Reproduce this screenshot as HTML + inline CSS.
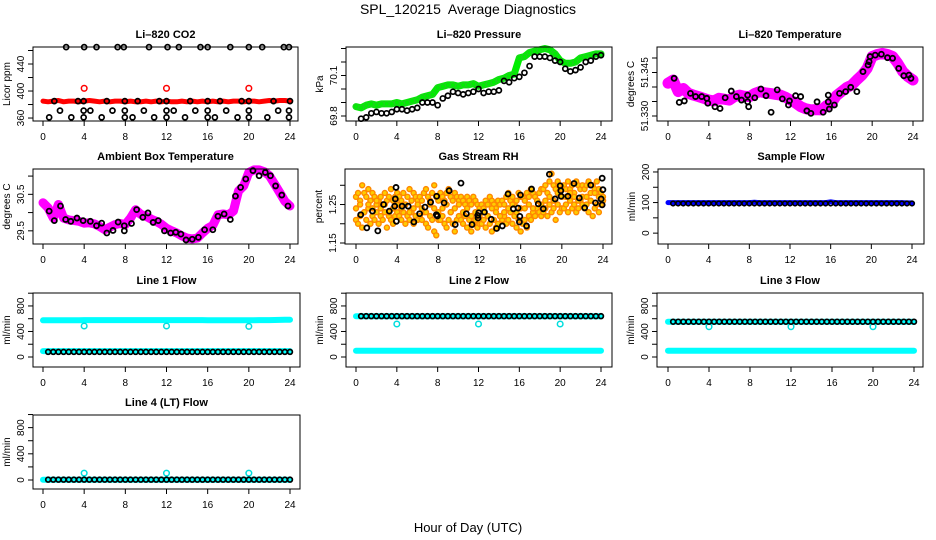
<!DOCTYPE html>
<html><head><meta charset="utf-8"><title>SPL_120215 Average Diagnostics</title>
<style>
html,body{margin:0;padding:0;background:#fff;}
svg{display:block;font-family:"Liberation Sans",sans-serif;}
</style></head>
<body>
<svg id="chart" width="936" height="540" viewBox="0 0 936 540" xmlns="http://www.w3.org/2000/svg">
<rect x="0" y="0" width="936" height="540" fill="#fff"/>
<text x="468" y="14" text-anchor="middle" font-size="14" xml:space="preserve">SPL_120215  Average Diagnostics</text>
<text x="468" y="532" text-anchor="middle" font-size="13">Hour of Day (UTC)</text>
</svg>
<script>
// ---------- data ----------
const xTicks = [0,4,8,12,16,20,24];
const halfHours = [0,0.5,1,1.5,2,2.5,3,3.5,4,4.5,5,5.5,6,6.5,7,7.5,8,8.5,9,9.5,10,10.5,11,11.5,12,12.5,13,13.5,14,14.5,15,15.5,16,16.5,17,17.5,18,18.5,19,19.5,20,20.5,21,21.5,22,22.5,23,23.5,24];
const outlierHours = [4,12,20];

// CO2
const co2Red = [385,384,385,386,384,385,385,384,385,386,385,384,385,384,385,385,384,385,384,384,385,384,385,384,385,384,384,385,384,385,384,385,384,385,384,385,384,385,385,384,385,385,384,385,386,385,386,386,385];
const co2RedOut = [404,404,404];
const co2BlkHours = [2.25,4.0,5.2,7.25,7.85,10.3,12.1,13.2,15.3,16.0,18.2,20.0,21.3,23.4,23.9, 1.1,3.4,3.95,6.2,7.95,9.2,11.3,12.0,14.3,16.0,17.2,19.3,20.0,22.4,24.0, 1.65,3.95,4.6,6.75,7.95,9.8,12.0,12.7,14.8,16.0,17.8,20.0,22.85,23.9, 0.6,2.75,3.95,5.7,7.95,8.7,10.8,12.0,13.8,16.0,16.7,18.9,20.0,21.8,23.9];
const co2Blk = [465,465,465,465,465,465,465,465,465,465,465,465,465,465,465, 385,385,385,385,385,385,385,385,385,385,385,385,385,385,385, 371,371,371,371,371,371,371,371,371,371,371,371,371,371, 361,361,361,361,361,361,361,361,361,361,361,361,361,361,361];

// Pressure
const presGreen = [69.87,69.86,69.88,69.89,69.88,69.89,69.89,69.89,69.90,69.89,69.90,69.91,69.92,69.94,69.95,69.96,70.01,70.02,70.03,70.03,70.02,70.03,70.03,70.04,70.02,70.03,70.04,70.05,70.07,70.08,70.10,70.11,70.23,70.24,70.27,70.28,70.29,70.30,70.29,70.26,70.21,70.19,70.19,70.20,70.23,70.24,70.25,70.26,70.26];
const presBlk = [69.78,69.79,69.82,69.83,69.82,69.82,69.83,69.85,69.85,69.84,69.85,69.86,69.90,69.90,69.90,69.88,69.93,69.95,69.98,69.97,69.96,69.97,69.98,70.00,69.97,69.98,69.98,69.99,70.06,70.05,70.08,70.09,70.12,70.17,70.24,70.24,70.24,70.23,70.21,70.20,70.15,70.13,70.14,70.16,70.20,70.21,70.24,70.25];

// Li-820 temperature
const tempMag = [51.3413,51.3424,51.3384,51.3395,51.3378,51.3372,51.3367,51.3361,51.3355,51.3352,51.3361,51.3358,51.3355,51.3367,51.3372,51.3368,51.3367,51.3378,51.3384,51.3380,51.3378,51.3375,51.3372,51.3365,51.3355,51.3345,51.3332,51.3325,51.3321,51.3322,51.3321,51.3335,51.3344,51.3370,51.3384,51.3398,51.3407,51.3425,51.3441,51.3464,51.3505,51.3512,51.3516,51.3512,51.3505,51.3482,51.3453,51.3436,51.3424];
const tempBlkHours = [0.6,1.1,1.6,2.2,2.7,3.3,3.8,3.9,4.6,5.1,5.6,6.2,6.7,7.2,7.8,7.8,7.9,8.5,9.1,9.6,10.1,10.7,11.2,11.8,11.9,12.5,13.0,13.6,14.0,14.6,15.2,15.7,15.7,15.8,16.3,16.8,17.4,17.9,18.5,19.1,19.6,19.7,19.8,20.3,20.9,21.5,22.0,22.6,23.1,23.6,23.8];
const tempBlk = [51.3430,51.3347,51.3352,51.3378,51.3367,51.3367,51.3361,51.3344,51.3332,51.3326,51.3363,51.3386,51.3367,51.3355,51.3372,51.3349,51.3332,51.3363,51.3393,51.3370,51.3313,51.3390,51.3359,51.3338,51.3352,51.3370,51.3367,51.3318,51.3309,51.3349,51.3313,51.3372,51.3349,51.3324,51.3338,51.3378,51.3384,51.3399,51.3384,51.3453,51.3476,51.3487,51.3505,51.3510,51.3513,51.3501,51.3499,51.3464,51.3439,51.3441,51.3430];

// Ambient box temperature
const ambMag = [30.27,30.13,29.85,30.22,29.85,29.80,29.78,29.76,29.71,29.72,29.69,29.62,29.53,29.60,29.67,29.70,29.67,29.85,30.08,29.95,29.90,29.82,29.76,29.68,29.57,29.50,29.44,29.36,29.30,29.28,29.30,29.44,29.57,29.65,29.94,29.96,29.94,30.04,30.59,30.73,31.10,31.17,31.17,31.12,31.01,30.78,30.55,30.31,30.18];
const ambBlkHours = [0.6,1.1,1.7,2.2,2.7,3.3,3.9,4.6,5.2,5.7,6.2,6.8,7.3,7.9,7.9,8.6,9.1,9.7,10.2,10.7,11.2,11.8,12.4,12.9,13.4,13.9,14.5,15.1,15.7,16.5,17.0,17.6,18.2,18.7,19.2,19.7,20.4,21.0,21.6,22.1,22.6,23.2,23.8];
const ambBlk = [30.04,29.78,30.18,29.81,29.76,29.85,29.78,29.76,29.64,29.71,29.44,29.51,29.74,29.50,29.64,29.70,30.08,29.87,29.99,29.73,29.78,29.50,29.44,29.46,29.41,29.25,29.27,29.32,29.53,29.53,29.90,29.96,29.81,30.45,30.69,30.92,31.15,31.01,31.10,31.01,30.73,30.48,30.18];

// Gas stream RH (orange scatter, three sub-samples)
const rhA = [1.27,1.28,1.26,1.30,1.28,1.27,1.29,1.26,1.28,1.27,1.25, 1.26,1.27,1.25,1.28,1.26,1.27,1.29,1.26,1.27,1.28, 1.27,1.26,1.28,1.25,1.27,1.29,1.26,1.28,1.27,1.26, 1.27,1.26,1.28,1.29,1.27,1.26,1.28,1.30,1.27,1.26, 1.28,1.27,1.26,1.28,1.29,1.27,1.26,1.28,1.27,1.26, 1.27,1.26,1.25,1.27,1.26,1.25,1.27,1.26,1.25,1.24, 1.25,1.24,1.26,1.25,1.27,1.26,1.25,1.24,1.26,1.25, 1.26,1.25,1.27,1.28,1.26,1.27,1.25,1.26,1.28,1.27, 1.27,1.26,1.28,1.27,1.29,1.28,1.27,1.26,1.28,1.29, 1.29,1.30,1.28,1.31,1.33,1.30,1.29,1.31,1.30,1.29, 1.30,1.29,1.31,1.29,1.30,1.28,1.31,1.30,1.29,1.30, 1.29,1.30,1.31,1.28,1.30,1.29,1.31,1.29,1.28,1.27];
const rhB = [1.21,1.20,1.22,1.19,1.23,1.21,1.24,1.20,1.22,1.21,1.23, 1.20,1.22,1.21,1.23,1.19,1.22,1.21,1.20,1.22,1.23, 1.22,1.21,1.23,1.20,1.22,1.21,1.23,1.20,1.22,1.21, 1.22,1.21,1.23,1.20,1.19,1.22,1.21,1.18,1.17,1.21, 1.21,1.22,1.20,1.19,1.21,1.23,1.20,1.18,1.21,1.22, 1.21,1.20,1.22,1.19,1.21,1.18,1.20,1.21,1.19,1.20, 1.20,1.21,1.19,1.22,1.20,1.18,1.21,1.19,1.20,1.22, 1.21,1.22,1.20,1.21,1.23,1.20,1.22,1.19,1.21,1.18, 1.20,1.21,1.19,1.22,1.21,1.23,1.22,1.24,1.23,1.22, 1.23,1.24,1.22,1.25,1.23,1.24,1.21,1.25,1.23,1.24, 1.24,1.25,1.23,1.26,1.24,1.25,1.23,1.24,1.26,1.25, 1.24,1.25,1.23,1.26,1.22,1.24,1.25,1.23,1.25,1.26];
const rhC = [1.24,1.25,1.23,1.25,1.24,1.26, 1.24,1.25,1.23,1.24,1.25, 1.24,1.25,1.23,1.24,1.25, 1.24,1.23,1.25,1.24,1.23, 1.24,1.25,1.23,1.24,1.25, 1.23,1.24,1.22,1.23,1.22, 1.23,1.22,1.24,1.23,1.22, 1.23,1.24,1.25,1.23,1.24, 1.24,1.25,1.24,1.26,1.25, 1.26,1.27,1.26,1.28,1.27, 1.27,1.28,1.27,1.26,1.27, 1.27,1.26,1.28,1.27,1.26];
const rhBlkHours = [0.46,1.05,1.60,2.12,2.68,3.24,3.76,3.89,3.92,3.82,4.48,5.07,5.62,6.18,6.70,7.25,7.81,7.84,7.91,8.56,9.05,9.64,10.2,10.72,11.27,11.83,11.86,11.93,12.48,13.14,13.66,14.22,14.77,15.29,15.75,15.88,15.92,15.98,16.57,17.06,17.71,18.20,18.79,19.35,19.84,19.90,19.93,20.59,21.18,21.70,22.22,22.81,23.27,23.82,23.92,23.99,23.92];
const rhBlk = [1.2235,1.1893,1.2329,1.1816,1.25,1.2329,1.2457,1.2944,1.2064,1.2645,1.2457,1.2457,1.2047,1.2261,1.2432,1.256,1.2235,1.2714,1.2201,1.2543,1.2859,1.1979,1.3056,1.2261,1.1979,1.2218,1.215,1.2286,1.2303,1.2115,1.1876,1.1944,1.2774,1.2389,1.2406,1.2047,1.2192,1.2748,1.1944,1.2902,1.2517,1.2389,1.3286,1.2645,1.2987,1.2859,1.2714,1.2714,1.3047,1.2671,1.2415,1.3004,1.2543,1.2645,1.3184,1.2885,1.2491];

// Sample flow
const sampBlue = [100,100,100,100,100,100,100,100,100,100,100,100,100,100,100,100,100,101,100,100,100,100,100,100,100,100,100,100,100,100,100,100,102,100,100,100,100,100,100,100,100,100,100,100,100,100,100,99,99];
const sampBlk = [97,97,97,97,97,97,97,97,97,97,97,97,97,97,97,97,97,97,97,97,97,97,97,97,97,97,97,97,97,97,97,97,97,97,97,97,97,97,97,97,97,97,97,97,97,97,97,97];

// Line flows
const l1High = [575,576,576,577,577,577,577,577,578,578,578,578,578,578,578,578,578,578,578,578,578,578,578,578,578,578,578,578,578,578,578,578,576,576,576,576,576,577,577,577,577,577,578,578,579,580,582,585,585];
const l1Low = [92,92,92,92,92,92,92,92,92,92,92,92,92,92,92,92,92,92,92,92,92,92,92,92,92,92,92,92,92,92,92,92,92,92,92,92,92,92,92,92,92,92,92,92,92,92,92,92,92];
const l1Out = [486,486,480];
const l1Blk = [80,80,80,80,80,80,80,80,80,80,80,80,80,80,80,80,80,80,80,80,80,80,80,80,80,80,80,80,80,80,80,80,80,80,80,80,80,80,80,80,80,80,80,80,80,80,80,80];

const l2High = [640,640,640,640,640,640,640,640,640,640,640,640,640,640,640,640,640,640,640,640,640,640,640,640,640,640,640,640,640,640,640,640,640,640,640,640,640,640,640,640,640,640,640,640,640,640,640,640,640];
const l2Low = [98,98,98,98,98,98,98,98,98,98,98,98,98,98,98,98,98,98,98,98,98,98,98,98,98,98,98,98,98,98,98,98,98,98,98,98,98,98,98,98,98,98,98,98,98,98,98,98,98];
const l2Out = [517,517,517];
const l2Blk = [640,640,640,640,640,640,640,640,640,640,640,640,640,640,640,640,640,640,640,640,640,640,640,640,640,640,640,640,640,640,640,640,640,640,640,640,640,640,640,640,640,640,640,640,640,640,640,640];

const l3High = [553,553,553,553,553,553,553,553,553,553,553,553,553,553,553,553,553,553,553,553,553,553,553,553,553,553,553,553,553,553,553,553,553,553,553,553,553,553,553,553,553,553,553,553,553,553,553,553,553];
const l3Low = [98,98,98,98,98,98,98,98,98,98,98,98,98,98,98,98,98,98,98,98,98,98,98,98,98,98,98,98,98,98,98,98,98,98,98,98,98,98,98,98,98,98,98,98,98,98,98,98,98];
const l3Out = [475,475,475];
const l3Blk = [553,553,553,553,553,553,553,553,553,553,553,553,553,553,553,553,553,553,553,553,553,553,553,553,553,553,553,553,553,553,553,553,553,553,553,553,553,553,553,553,553,553,553,553,553,553,553,553];

const l4Cyan = [5,5,5,5,5,5,5,5,5,5,5,5,5,5,5,5,5,5,5,5,5,5,5,5,5,5,5,5,5,5,5,5,5,5,5,5,5,5,5,5,5,5,5,5,5,5,5,5,5];
const l4Out = [105,105,105];
const l4Blk = [5,5,5,5,5,5,5,5,5,5,5,5,5,5,5,5,5,5,5,5,5,5,5,5,5,5,5,5,5,5,5,5,5,5,5,5,5,5,5,5,5,5,5,5,5,5,5,5];

// axis tick values and labels
const co2Ticks = [360,380,400,420,440,460], co2Labels = ["360","","400","","440",""];
const presTicks = [69.8,69.9,70.0,70.1,70.2,70.3], presLabels = ["69.8","","","70.1","",""];
const tempTicks = [51.330,51.335,51.340,51.345,51.350], tempLabels = ["51.330","","","51.345",""];
const ambTicks = [29.5,30.0,30.5,31.0], ambLabels = ["29.5","","30.5",""];
const rhTicks = [1.15,1.20,1.25,1.30], rhLabels = ["1.15","","1.25",""];
const sampTicks = [0,50,100,150,200], sampLabels = ["0","","100","","200"];
const flowTicks = [0,200,400,600,800,1000], flowLabels = ["0","","400","","800",""];

// ---------- drawing ----------
const NS = "http://www.w3.org/2000/svg";
const svg = document.getElementById("chart");
function mk(tag, attrs, parent){
  const e = document.createElementNS(NS, tag);
  for (const k in attrs) e.setAttribute(k, attrs[k]);
  (parent||svg).appendChild(e);
  return e;
}
function makePanel(p){
  const g = mk("g", {});
  
  
  const xs = h => p.x0 + h*(p.x24 - p.x0)/24;
  const ys = v => p.by1 - (v - p.ymin)/(p.ymax - p.ymin)*(p.by1 - p.by0);
  const t = mk("text", {x:(p.bx0+p.bx1)/2, y:p.by0-9, "text-anchor":"middle", "font-size":11, "font-weight":"bold"}, g);
  t.textContent = p.title;
  
  
  const xa = mk("g", {}, g);
  
  
  mk("line", {x1:xs(0), x2:xs(24), y1:p.by1, y2:p.by1, stroke:"#000"}, xa);
  xTicks.forEach(h => {
    mk("line", {x1:xs(h), x2:xs(h), y1:p.by1, y2:p.by1+5, stroke:"#000"}, xa);
    const l = mk("text", {x:xs(h), y:p.by1+19, "text-anchor":"middle", "font-size":10}, xa);
    l.textContent = String(h);
    
    
  });
  const ya = mk("g", {}, g);
  
  
  p.ticks.forEach((v,i) => {
    const y = ys(v);
    mk("line", {x1:p.bx0-5, x2:p.bx0, y1:y, y2:y, stroke:"#000"}, ya);
    if (p.labels[i]) {
      const l = mk("text", {x:0, y:0, "text-anchor":"middle", "font-size":10, transform:`translate(${p.bx0-9},${y}) rotate(-90)`}, ya);
      l.textContent = p.labels[i];
      
      
    }
  });
  const yt = mk("text", {x:0, y:0, "text-anchor":"middle", "font-size":10, transform:`translate(${p.bx0-23},${(p.by0+p.by1)/2}) rotate(-90)`}, g);
  yt.textContent = p.ylab;
  
  
  const area = mk("g", {}, g);
  
  
  p.draw(area, xs, ys);
  mk("rect", {x:p.bx0, y:p.by0, width:p.bx1-p.bx0, height:p.by1-p.by0, fill:"none", stroke:"#000"}, g);
}
function band(area, xs, ys, hours, vals, color, w, name){
  const pts = hours.map((h,i) => xs(h).toFixed(1)+","+ys(vals[i]).toFixed(1)).join(" ");
  const l = mk("polyline", {points:pts, fill:"none", stroke:color, "stroke-width":w, "stroke-linejoin":"round", "stroke-linecap":"round"}, area);
  
  
}
function dots(area, xs, ys, hours, vals, stroke, fill, r, sw, name){
  const gg = mk("g", {}, area);
  
  
  vals.forEach((v,i) => {
    const c = mk("circle", {cx:xs(hours[i]), cy:ys(v), r:r, fill:fill, stroke:stroke, "stroke-width":sw}, gg);
    
    
  });
}
const blkHours = halfHours.slice(1);
const rhHoursAB = rhA.map((_,i) => i*0.2);
const rhHoursC = rhC.map((_,i) => i*0.4);

makePanel({name:"panel-co2", title:"Li\u2013820 CO2", ylab:"Licor ppm", bx0:33,bx1:298,by0:47,by1:121, x0:43,x24:290, ymin:355.6,ymax:465.2, ticks:co2Ticks, labels:co2Labels,
  draw:(a,xs,ys)=>{ band(a,xs,ys,halfHours,co2Red,"#ff0000",5,"co2-red-series");
    dots(a,xs,ys,outlierHours,co2RedOut,"#ff0000","none",2.8,1.5,"co2-red-outliers");
    dots(a,xs,ys,co2BlkHours,co2Blk,"#000","none",2.5,1.7,"co2-black-series"); }});
makePanel({name:"panel-pressure", title:"Li\u2013820 Pressure", ylab:"kPa", bx0:346,bx1:612,by0:47,by1:121, x0:356,x24:601, ymin:69.763,ymax:70.311, ticks:presTicks, labels:presLabels,
  draw:(a,xs,ys)=>{ band(a,xs,ys,halfHours,presGreen,"#00ee00",7,"pressure-green-series");
    dots(a,xs,ys,halfHours,presGreen,"#22cc22","none",2.5,1,"pressure-green-points");
    dots(a,xs,ys,blkHours,presBlk,"#000","none",2.5,1.7,"pressure-black-series"); }});
makePanel({name:"panel-li820-temp", title:"Li\u2013820 Temperature", ylab:"degrees C", bx0:657,bx1:923,by0:47,by1:121, x0:668,x24:913, ymin:51.32828,ymax:51.35379, ticks:tempTicks, labels:tempLabels,
  draw:(a,xs,ys)=>{ band(a,xs,ys,halfHours,tempMag,"#ff00ff",11,"temp-magenta-series");
    dots(a,xs,ys,tempBlkHours,tempBlk,"#000","none",2.5,1.8,"temp-black-series"); }});
makePanel({name:"panel-ambient-temp", title:"Ambient Box Temperature", ylab:"degrees C", bx0:33,bx1:298,by0:169,by1:244, x0:43,x24:290, ymin:29.139,ymax:31.194, ticks:ambTicks, labels:ambLabels,
  draw:(a,xs,ys)=>{ band(a,xs,ys,halfHours,ambMag,"#ff00ff",9,"ambient-magenta-series");
    dots(a,xs,ys,ambBlkHours,ambBlk,"#000","none",2.5,1.8,"ambient-black-series"); }});
makePanel({name:"panel-rh", title:"Gas Stream RH", ylab:"percent", bx0:345,bx1:612,by0:169,by1:244, x0:356,x24:603, ymin:1.1474,ymax:1.3423, ticks:rhTicks, labels:rhLabels,
  draw:(a,xs,ys)=>{ dots(a,xs,ys,rhHoursAB,rhA,"#ff8800","#ffcc00",2.5,1.4,"rh-orange-series-a");
    dots(a,xs,ys,rhHoursAB,rhB,"#ff8800","#ffcc00",2.5,1.4,"rh-orange-series-b");
    dots(a,xs,ys,rhHoursC,rhC,"#ff8800","#ffcc00",2.5,1.4,"rh-orange-series-c");
    dots(a,xs,ys,rhBlkHours,rhBlk,"#000","none",2.5,1.8,"rh-black-series"); }});
makePanel({name:"panel-sample-flow", title:"Sample Flow", ylab:"ml/min", bx0:658,bx1:924,by0:169,by1:244, x0:668,x24:912, ymin:-35.5,ymax:209.7, ticks:sampTicks, labels:sampLabels,
  draw:(a,xs,ys)=>{ band(a,xs,ys,halfHours,sampBlue,"#0000ff",5,"sample-blue-series");
    dots(a,xs,ys,blkHours,sampBlk,"#000","none",2.3,1.6,"sample-black-series"); }});
function flowPanel(name,title,bx0,bx1,by0,by1,x0,x24,ymin,ymax,high,low,out,blk){
  makePanel({name:name, title:title, ylab:"ml/min", bx0:bx0,bx1:bx1,by0:by0,by1:by1, x0:x0,x24:x24, ymin:ymin,ymax:ymax, ticks:flowTicks, labels:flowLabels,
    draw:(a,xs,ys)=>{ if (high) band(a,xs,ys,halfHours,high,"#00ffff",6,"cyan-high-series");
      band(a,xs,ys,halfHours,low,"#00ffff",6,"cyan-low-series");
      dots(a,xs,ys,outlierHours,out,"#00dddd","none",2.8,1.5,"cyan-outliers");
      dots(a,xs,ys,blkHours,blk,"#000","none",2.4,1.7,"black-series"); }});
}
flowPanel("panel-line1-flow","Line 1 Flow",33,300,293,367,43,290,-156.7,1003,l1High,l1Low,l1Out,l1Blk);
flowPanel("panel-line2-flow","Line 2 Flow",346,612,293,367,356,601,-156.7,1003,l2High,l2Low,l2Out,l2Blk);
flowPanel("panel-line3-flow","Line 3 Flow",657,923,293,367,668,914,-156.7,1003,l3High,l3Low,l3Out,l3Blk);
flowPanel("panel-line4-flow","Line 4 (LT) Flow",33,300,415,489,43,290,-137.6,993,null,l4Cyan,l4Out,l4Blk);
</script>
</body></html>
